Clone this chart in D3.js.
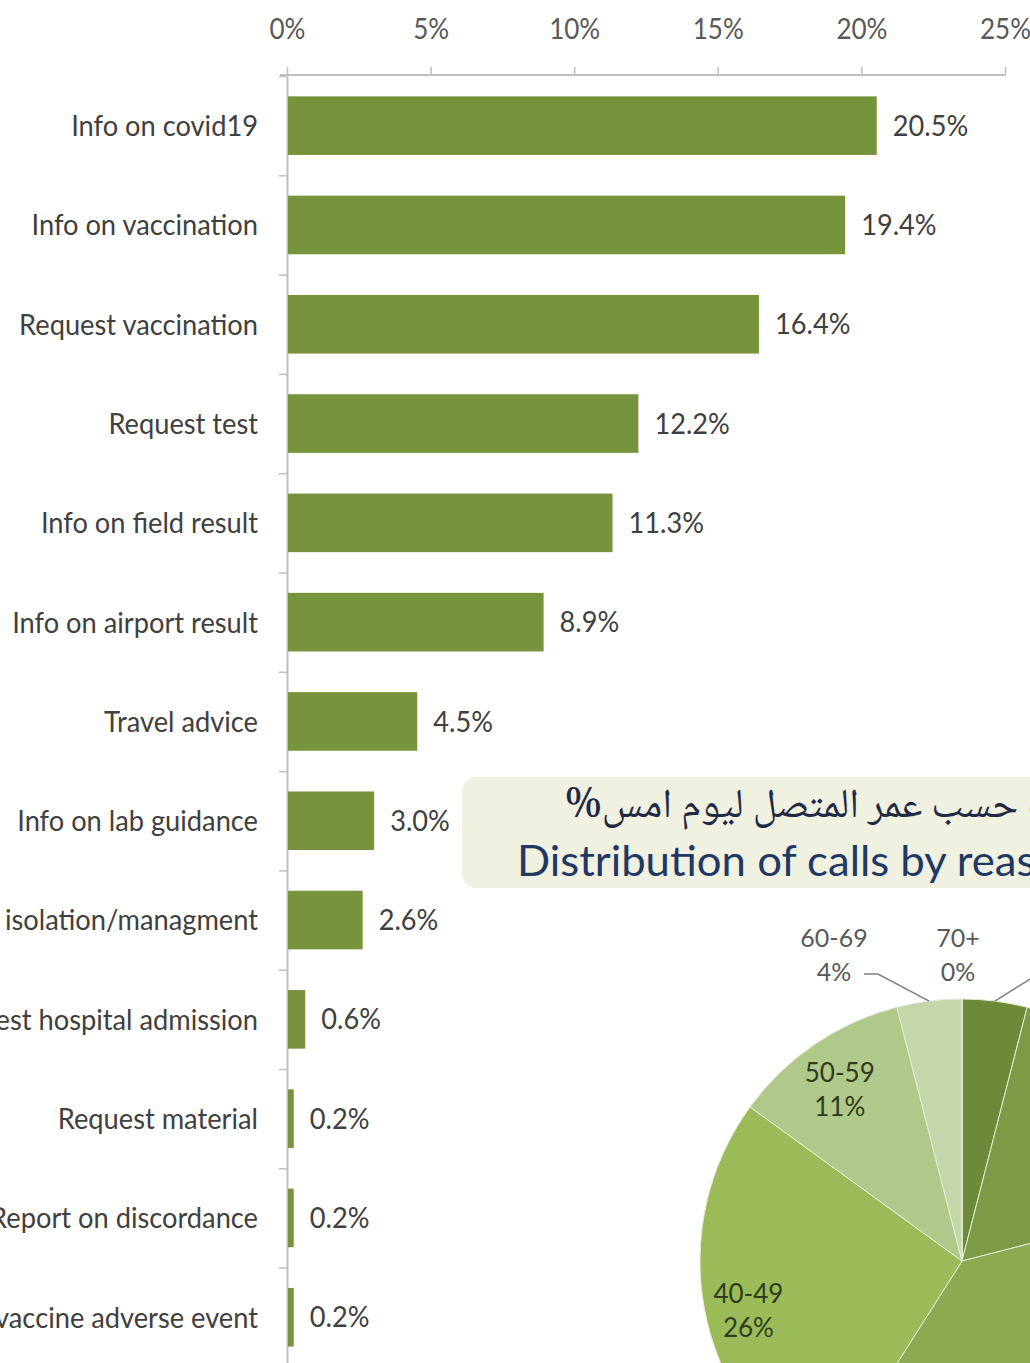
<!DOCTYPE html>
<html><head><meta charset="utf-8">
<script src="https://cdn.jsdelivr.net/npm/d3@7"></script>
<style>
html,body{margin:0;padding:0;background:#fff;overflow:hidden;}
svg{display:block;}
</style></head>
<body>
<script>
const categories = ["Info on covid19","Info on vaccination","Request vaccination","Request test","Info on field result","Info on airport result","Travel advice","Info on lab guidance","Home isolation/managment","Request hospital admission","Request material","Report on discordance","Report vaccine adverse event"];
const values = [20.5,19.4,16.4,12.2,11.3,8.9,4.5,3.0,2.6,0.6,0.2,0.2,0.2];
const xTicks = [0,5,10,15,20,25];
const ageGroups = ["<20","20-29","30-39","40-49","50-59","60-69","70+"];
const agePercents = [4,17,38,26,11,4,0];
const titleArabic = "توزيع المكالمات حسب عمر المتصل ليوم امس%";
const titleEnglish = "Distribution of calls by reason";

const W = 1030, H = 1363;
const FONT = "Lato, 'Open Sans', sans-serif";
const svg = d3.select("body").append("svg").attr("width", W).attr("height", H);

// ---------- bar chart ----------
const x = d3.scaleLinear().domain([0, 25]).range([287, 1005]);
const step = 99.3, y0 = 76;
const y = d3.scaleBand().domain(categories).range([y0, y0 + step * categories.length])
  .paddingInner(0.41).paddingOuter(0.205);

const axisColor = "#BFBFBF";
// top axis
const gx = svg.append("g").attr("transform", `translate(0,${y0 - 1})`)
  .call(d3.axisTop(x).tickValues(xTicks).tickSize(8).tickSizeOuter(0).tickFormat(d => d + "%"));
gx.select(".domain").attr("stroke", axisColor).attr("stroke-width", 2).attr("d", `M${x(0)-7},0H${x(25)}`);
gx.selectAll(".tick line").attr("stroke", axisColor).attr("stroke-width", 1.5);
gx.selectAll(".tick text")
  .attr("fill", "#595959").attr("font-family", FONT).attr("font-size", 28)
  .attr("y", 0).attr("dy", "0")
  .attr("transform", `translate(0,-36) scale(0.93,1)`);

// left axis with boundary ticks
const idx = d3.scaleLinear().domain([0, categories.length]).range([y0, y0 + step * categories.length]);
const gy = svg.append("g").attr("transform", `translate(${x(0)},0)`)
  .call(d3.axisLeft(idx).ticks(categories.length).tickSize(8).tickSizeOuter(0).tickFormat(""));
gy.select(".domain").attr("stroke", axisColor).attr("stroke-width", 2);
gy.selectAll(".tick line").attr("stroke", axisColor).attr("stroke-width", 1.5);

// bars
svg.append("g").selectAll("rect").data(values).join("rect")
  .attr("x", x(0) + 1)
  .attr("y", (d, i) => y(categories[i]))
  .attr("width", d => x(d) - x(0))
  .attr("height", y.bandwidth())
  .attr("fill", "#77933C");

// category labels
svg.append("g").selectAll("text").data(categories).join("text")
  .attr("transform", d => `translate(258,${y(d) + y.bandwidth() / 2}) scale(0.94,1)`)
  .attr("text-anchor", "end").attr("dy", "0.36em")
  .attr("font-family", FONT).attr("font-size", 29).attr("fill", "#404040")
  .text(d => d);

// value labels
svg.append("g").selectAll("text").data(values).join("text")
  .attr("transform", (d, i) => `translate(${x(d) + 17},${y(categories[i]) + y.bandwidth() / 2}) scale(0.97,1)`)
  .attr("dy", "0.36em")
  .attr("font-family", FONT).attr("font-size", 28).attr("fill", "#404040")
  .text(d => d.toFixed(1) + "%");

// ---------- pie title box ----------
const box = svg.append("g");
box.append("rect").attr("x", 462).attr("y", 777).attr("width", 700).attr("height", 111)
  .attr("rx", 14).attr("fill", "#F1F1E1");
box.append("text").attr("x", 565).attr("y", 817)
  .attr("direction", "rtl").attr("text-anchor", "end")
  .attr("font-family", "'Noto Naskh Arabic','DejaVu Sans',serif").attr("font-size", 41)
  .attr("fill", "#1F2A44").text(titleArabic);
box.append("text").attr("transform", `translate(517,876) scale(1.04,1)`)
  .attr("font-family", FONT).attr("font-size", 42).attr("fill", "#1F3864")
  .text(titleEnglish);

// ---------- pie ----------
const cx = 962, cy = 1261, R = 262;
const PSX = 1.0;
const pieColors = ["#6C8A38","#7D9B47","#8DAA51","#9BBB59","#B0C889","#C5D6A8","#D8E4C6"];
const arcs = d3.pie().sort(null).value(d => d)(agePercents);
const arc = d3.arc().innerRadius(0).outerRadius(R);
const gp = svg.append("g").attr("transform", `translate(${cx},${cy})`);
gp.selectAll("path").data(arcs).join("path")
  .attr("d", arc).attr("fill", (d, i) => pieColors[i])
  .attr("stroke", "#E4EBD6").attr("stroke-width", 1);

const inLabelArc = d3.arc().innerRadius(R * 0.83).outerRadius(R * 0.83);
const inside = arcs.map((a, i) => ({a, i})).filter(o => agePercents[o.i] >= 5);
const outside = arcs.map((a, i) => ({a, i})).filter(o => agePercents[o.i] < 5);

inside.forEach(o => {
  const [lx, ly] = inLabelArc.centroid(o.a);
  const t = gp.append("text").attr("transform", `translate(${lx},${ly}) scale(${PSX},1)`)
    .attr("text-anchor", "middle").attr("font-family", FONT).attr("font-size", 26).attr("fill", "#2F3B1C");
  t.append("tspan").attr("x", 0).attr("y", 1).text(ageGroups[o.i]);
  t.append("tspan").attr("x", 0).attr("y", 35).text(agePercents[o.i] + "%");
});

// outside labels above the pie, spread horizontally
const mid = a => (a.startAngle + a.endAngle) / 2;
outside.forEach(o => { o.ax = R * Math.sin(mid(o.a)); o.ay = -R * Math.cos(mid(o.a)); });
outside.sort((p, q) => p.ax - q.ax);
const gap = 124;
const center = outside.reduce((b, o) => Math.abs(o.ax) < Math.abs(b.ax) ? o : b, outside[0]);
const ci = outside.indexOf(center);
outside.forEach((o, k) => { o.lx = center.ax - 4 + (k - ci) * gap; });
const labelTop = -R - 52;
outside.forEach(o => {
  const t = gp.append("text").attr("transform", `translate(${o.lx},${labelTop}) scale(${PSX},1)`)
    .attr("text-anchor", "middle").attr("font-family", FONT).attr("font-size", 25).attr("fill", "#595959");
  t.append("tspan").attr("x", 0).attr("y", 0).text(ageGroups[o.i]);
  t.append("tspan").attr("x", 0).attr("y", 34).text(agePercents[o.i] + "%");
  if (Math.abs(o.lx - o.ax) > 20) {
    const side = o.lx < o.ax ? 1 : -1;
    const sx0 = o.lx + side * 30, sy0 = labelTop + 27;
    gp.append("polyline")
      .attr("points", `${sx0},${sy0} ${sx0 + side * 14},${sy0} ${o.ax},${o.ay}`)
      .attr("fill", "none").attr("stroke", "#7F7F7F").attr("stroke-width", 1.5);
  }
});
</script>
</body></html>
